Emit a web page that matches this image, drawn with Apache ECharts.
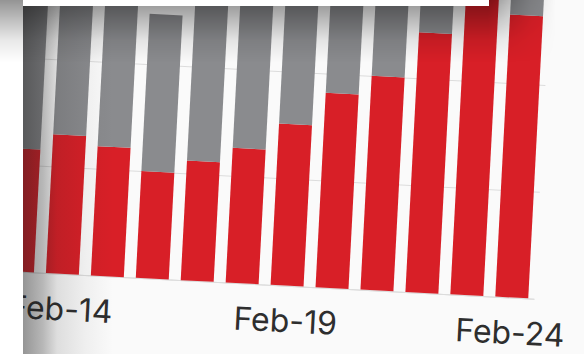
<!DOCTYPE html>
<html>
<head>
<meta charset="utf-8">
<script src="https://cdn.jsdelivr.net/npm/echarts@6/dist/echarts.min.js"></script>
<style>
  html, body { margin: 0; padding: 0; width: 584px; height: 354px; overflow: hidden; background: #ffffff; }
  #sheet { position: absolute; left: 23px; top: 0; width: 561px; height: 354px; overflow: hidden; background: #fafafa; }
  #chart { position: absolute; left: -4.9px; top: -168.9px; width: 640px; height: 500px;
           transform: rotate(3deg); transform-origin: 0 0; }
  #edgeShade { position: absolute; left: 0; top: 0; width: 95px; height: 354px; pointer-events: none;
    background: linear-gradient(to right, rgba(30,30,30,0.46) 0px, rgba(30,30,30,0.30) 20px,
      rgba(30,30,30,0.13) 34px, rgba(30,30,30,0.05) 62px, rgba(30,30,30,0) 90px); }
  #topShade { position: absolute; left: 0; top: 0; width: 584px; height: 70px; pointer-events: none;
    background: linear-gradient(to bottom, rgba(0,0,0,0.42) 0px, rgba(0,0,0,0.36) 7px,
      rgba(0,0,0,0.25) 20px, rgba(0,0,0,0.09) 40px, rgba(0,0,0,0) 62px);
    -webkit-mask-image: linear-gradient(to right, #000 0px, #000 488px, rgba(0,0,0,0.25) 530px, rgba(0,0,0,0) 556px);
    mask-image: linear-gradient(to right, #000 0px, #000 488px, rgba(0,0,0,0.25) 530px, rgba(0,0,0,0) 556px); }
  #topStrip { position: absolute; left: 23px; top: 0; width: 466px; height: 6px; background: #ffffff; }
</style>
</head>
<body>
<div id="sheet">
  <div id="chart"></div>
  <div id="edgeShade"></div>
</div>
<div id="topShade"></div>
<div id="topStrip"></div>
<script>
// Daily categories and the two stacked series
const categories = ['Feb-13', 'Feb-14', 'Feb-15', 'Feb-16', 'Feb-17', 'Feb-18',
                    'Feb-19', 'Feb-20', 'Feb-21', 'Feb-22', 'Feb-23', 'Feb-24'];
const redValues  = [57.5, 65, 60.5, 50, 56, 63, 75.5, 91, 100, 121.5, 140, 132];
const greyValues = [112.5, 110, 104.5, 73.5, 112, 109, 104.5, 87, 85, 68.5, 55, 66];

// y scale: gridline every 50
const yMin = 0, yMax = 200, yStep = 50;
// show every fifth date label
const labelEvery = 5, labelOffset = 1;

const chart = echarts.init(document.getElementById('chart'), null, { renderer: 'svg' });
chart.setOption({
  animation: false,
  backgroundColor: 'transparent',
  grid: { left: 0, right: 100, top: 12, bottom: 60, containLabel: false },
  xAxis: {
    type: 'category',
    data: categories,
    axisTick: { show: false },
    axisLine: { show: true, lineStyle: { color: '#dcdcdc', width: 1 } },
    axisLabel: {
      interval: (i) => i % labelEvery === labelOffset,
      margin: 19,
      fontFamily: 'Inter',
      fontSize: 32,
      color: '#2e2e2e'
    }
  },
  yAxis: {
    type: 'value',
    min: yMin, max: yMax, interval: yStep,
    axisLabel: { show: false },
    axisLine: { show: false },
    axisTick: { show: false },
    splitLine: { lineStyle: { color: '#dcdcdc', width: 1 } }
  },
  series: [
    { name: 'red', type: 'bar', stack: 'total', data: redValues, barWidth: 33,
      itemStyle: { color: '#d81f27' } },
    { name: 'grey', type: 'bar', stack: 'total', data: greyValues, barWidth: 33,
      itemStyle: { color: '#8a8b8e' } }
  ]
});
</script>
</body>
</html>
